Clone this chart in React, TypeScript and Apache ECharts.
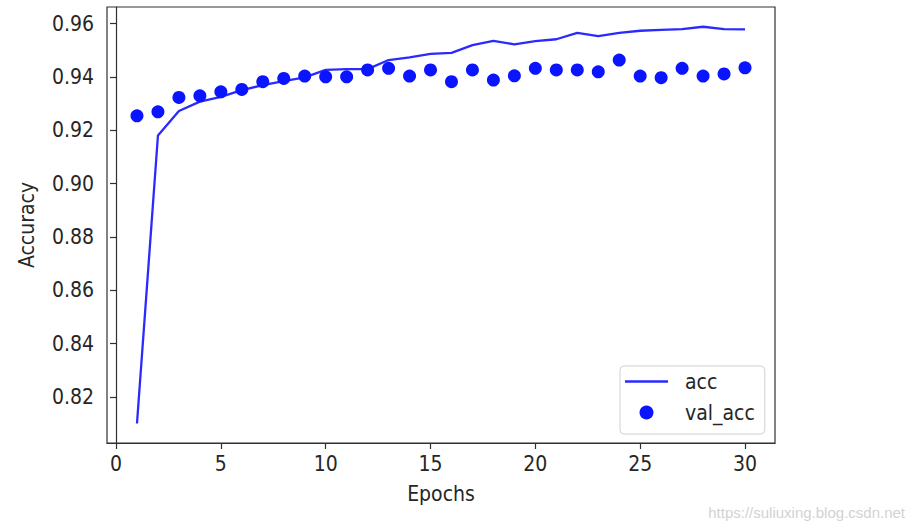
import React, { useEffect, useRef } from "react";
import * as echarts from "echarts";

const epochs: number[] = Array.from({ length: 30 }, (_, i) => i + 1);
const acc: number[] = [
  0.81, 0.918, 0.9272, 0.9307, 0.9325, 0.935, 0.9369, 0.9384, 0.9398, 0.9426,
  0.9429, 0.9429, 0.9463, 0.9473, 0.9486, 0.949, 0.9519, 0.9535, 0.9522, 0.9534,
  0.9541, 0.9565, 0.9553, 0.9565, 0.9573, 0.9576, 0.9579, 0.9588, 0.9579, 0.9578,
];
const valAcc: number[] = [
  0.9254, 0.9269, 0.9323, 0.9329, 0.9344, 0.9353, 0.9382, 0.9394, 0.9403, 0.94,
  0.94, 0.9426, 0.9432, 0.9403, 0.9426, 0.9382, 0.9426, 0.9388, 0.9404, 0.9432,
  0.9426, 0.9426, 0.9419, 0.9463, 0.9403, 0.9397, 0.9432, 0.9403, 0.9411, 0.9434,
];
const xTicks: number[] = [0, 5, 10, 15, 20, 25, 30];
const yTicks: number[] = [0.82, 0.84, 0.86, 0.88, 0.9, 0.92, 0.94, 0.96];

const FONT = "'DejaVu Sans Condensed', 'DejaVu Sans', sans-serif";
const TXT = "#262626";
const AX = "#303030";

export default function App() {
  const ref = useRef<HTMLDivElement>(null);
  useEffect(() => {
    if (!ref.current) return;
    const chart = echarts.init(ref.current, undefined, { renderer: "svg" });
    chart.setOption({
      animation: false,
      backgroundColor: "#ffffff",
      textStyle: { fontFamily: FONT },
      grid: {
        left: 107,
        top: 7,
        right: 141,
        bottom: 89,
        show: true,
        borderColor: AX,
        borderWidth: 1.2,
        backgroundColor: "transparent",
      },
      xAxis: {
        type: "value",
        min: -0.43,
        max: 31.43,
        name: "Epochs",
        nameLocation: "middle",
        nameGap: 40,
        nameTextStyle: { fontSize: 21, color: TXT, fontFamily: FONT },
        splitLine: { show: false },
        axisLine: { show: true, lineStyle: { color: AX, width: 1.2 } },
        axisTick: {
          show: true,
          length: 6,
          inside: false,
          customValues: xTicks,
          lineStyle: { color: AX, width: 1.2 },
        },
        axisLabel: {
          customValues: xTicks,
          fontSize: 21,
          color: TXT,
          margin: 10,
          fontFamily: FONT,
          formatter: (v: number) => String(v),
        },
      },
      yAxis: {
        type: "value",
        min: 0.8027,
        max: 0.9662,
        name: "Accuracy",
        nameLocation: "middle",
        nameGap: 70,
        nameTextStyle: { fontSize: 21, color: TXT, fontFamily: FONT },
        splitLine: { show: false },
        axisLine: { show: true, lineStyle: { color: AX, width: 1.2 } },
        axisTick: {
          show: true,
          length: 6,
          inside: false,
          customValues: yTicks,
          lineStyle: { color: AX, width: 1.2 },
        },
        axisLabel: {
          customValues: yTicks,
          fontSize: 21,
          color: TXT,
          margin: 13,
          fontFamily: FONT,
          formatter: (v: number) => v.toFixed(2),
        },
      },
      legend: {
        orient: "vertical",
        left: 620,
        top: 366,
        itemWidth: 43,
        itemHeight: 14,
        itemGap: 10,
        padding: [5, 10, 11, 5],
        borderColor: "#d0d0d0",
        borderWidth: 1,
        borderRadius: 4,
        backgroundColor: "rgba(255,255,255,0.8)",
        textStyle: { fontSize: 21, color: TXT, fontFamily: FONT, padding: [0, 0, 0, 12] },
        data: [
          { name: "acc", icon: "path://M0,0 L40,0 L40,2.2 L0,2.2 Z" },
          { name: "val_acc", icon: "circle" },
        ],
      },
      series: [
        {
          name: "acc",
          type: "line",
          data: epochs.map((e, i) => [e, acc[i]]),
          showSymbol: false,
          symbol: "none",
          lineStyle: { color: "#2a2aff", width: 2.3 },
          itemStyle: { color: "#2a2aff" },
          z: 2,
        },
        {
          name: "val_acc",
          type: "scatter",
          data: epochs.map((e, i) => [e, valAcc[i]]),
          symbol: "circle",
          symbolSize: 13,
          itemStyle: { color: "#0a14ff", opacity: 1 },
          z: 3,
        },
      ],
      graphic: [
        {
          type: "text",
          right: 11,
          top: 505,
          style: {
            text: "https://suliuxing.blog.csdn.net",
            fontSize: 15,
            fontFamily: "'Liberation Sans', Arial, sans-serif",
            fill: "#d2d2d2",
          },
        },
      ],
    });
    return () => chart.dispose();
  }, []);
  return (
    <div
      ref={ref}
      style={{ position: "fixed", left: 0, top: 0, width: 916, height: 532 }}
    />
  );
}
